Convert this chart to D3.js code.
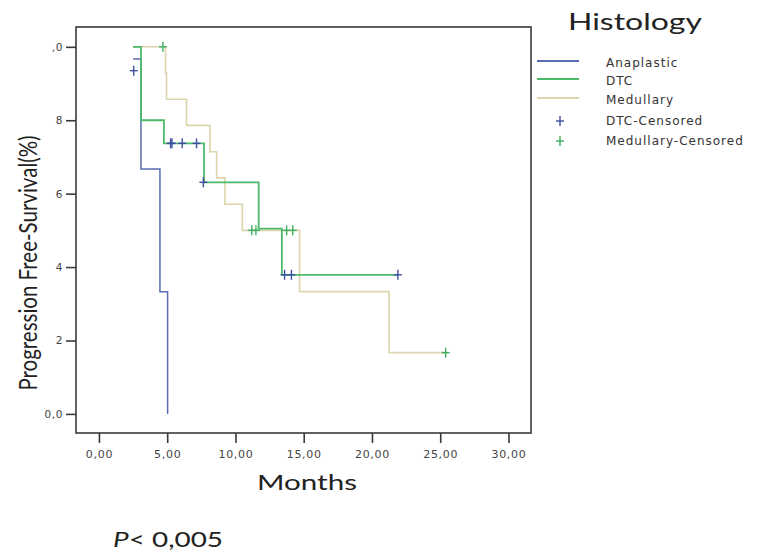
<!DOCTYPE html>
<html>
<head>
<meta charset="utf-8">
<script src="https://cdn.jsdelivr.net/npm/d3@7"></script>
<style>
  body { margin: 0; background: #fff; }
  svg { display: block; }
</style>
</head>
<body>
<svg id="km" width="758" height="558"></svg>
<script>
// valores
const anaTimes = [2.5, 3.08, 4.47, 5.03];
const anaSurv = [0.967, 0.667, 0.333, 0];
const dtcTimes = [2.5, 3.08, 4.76, 7.7, 11.7, 13.4, 21.9];
const dtcSurv = [1.0, 0.8, 0.737, 0.631, 0.505, 0.379, 0.379];
const medTimes = [2.5, 4.88, 4.95, 6.42, 8.13, 8.62, 9.23, 10.5, 14.7, 21.25, 25.5];
const medSurv = [1.0, 0.929, 0.857, 0.786, 0.714, 0.643, 0.571, 0.5, 0.333, 0.167, 0.167];
const dtcCensTimes = [2.55, 5.25, 5.35, 6.1, 7.15, 7.65, 13.6, 14.1, 21.9];
const dtcCensSurv = [0.935, 0.737, 0.737, 0.737, 0.737, 0.631, 0.379, 0.379, 0.379];
const medCensTimes = [4.69, 11.2, 11.5, 13.75, 14.2, 25.4];
const medCensSurv = [1.0, 0.5, 0.5, 0.5, 0.5, 0.167];
const xTicks = [0, 5, 10, 15, 20, 25, 30];
const xTickLabels = ['0,00', '5,00', '10,00', '15,00', '20,00', '25,00', '30,00'];
const yTicks = [0, 0.2, 0.4, 0.6, 0.8, 1.0];
const yTickLabels = ['0,0', '2', '4', '6', '8', ',0'];
const legendNames = ['Anaplastic', 'DTC', 'Medullary', 'DTC-Censored', 'Medullary-Censored'];

const svg = d3.select('#km');
const colAna = '#5b6cb2', colDtc = '#4dba6a', colMed = '#dcd5ab';
const colDtcC = '#3d4f9f', colMedC = '#3fae5e';

const xScale = d3.scaleLinear().domain([-1.68, 31.65]).range([76, 531]);
const yScale = d3.scaleLinear().domain([-0.052, 1.054]).range([433, 27]);

// marco
svg.append('rect')
    .attr('x', 76).attr('y', 27)
    .attr('width', 531 - 76).attr('height', 433 - 27)
    .attr('fill', 'none').attr('stroke', '#3a3a3a').attr('stroke-width', 1.6);

// ejes
const xAxis = d3.axisBottom(xScale).tickValues(xTicks)
    .tickFormat((d, i) => xTickLabels[i]).tickSize(10).tickSizeOuter(0);
const gx = svg.append('g').attr('transform', 'translate(0,433)').call(xAxis);
gx.select('.domain').remove();
gx.selectAll('line').attr('stroke', '#3a3a3a').attr('stroke-width', 1.6);
gx.selectAll('text').attr('font-family', 'DejaVu Sans').attr('font-size', 11)
    .attr('letter-spacing', 0.7).attr('fill', '#444').attr('dy', '1.05em');

const yAxis = d3.axisLeft(yScale).tickValues(yTicks)
    .tickFormat((d, i) => yTickLabels[i]).tickSize(10).tickSizeOuter(0);
const gy = svg.append('g').attr('transform', 'translate(76,0)').call(yAxis);
gy.select('.domain').remove();
gy.selectAll('line').attr('stroke', '#3a3a3a').attr('stroke-width', 1.6);
gy.selectAll('text').attr('font-family', 'DejaVu Sans').attr('font-size', 10.5)
    .attr('letter-spacing', 0.6).attr('fill', '#444').attr('x', -13);

// curvas
const line = d3.line()
    .x(d => xScale(d[0]))
    .y(d => yScale(d[1]))
    .curve(d3.curveStepAfter);

const series = [
    { times: medTimes, surv: medSurv, color: colMed, w: 1.6 },
    { times: anaTimes, surv: anaSurv, color: colAna, w: 1.5 },
    { times: dtcTimes, surv: dtcSurv, color: colDtc, w: 1.8 }
];

svg.selectAll('path.km')
    .data(series)
    .join('path')
    .attr('class', 'km')
    .attr('fill', 'none')
    .attr('stroke', d => d.color)
    .attr('stroke-width', d => d.w)
    .attr('d', d => line(d.times.map((t, i) => [t, d.surv[i]])));

// marcas de censura
function plus(g, color) {
    g.append('line').attr('x1', -4).attr('x2', 4).attr('y1', 0).attr('y2', 0)
        .attr('stroke', color).attr('stroke-width', 1.4);
    g.append('line').attr('x1', 0).attr('x2', 0).attr('y1', -5).attr('y2', 5)
        .attr('stroke', color).attr('stroke-width', 1.4);
}

const cens = dtcCensTimes.map((t, i) => ({ t, s: dtcCensSurv[i], c: colDtcC }))
    .concat(medCensTimes.map((t, i) => ({ t, s: medCensSurv[i], c: colMedC })));

svg.selectAll('g.cens')
    .data(cens)
    .join('g')
    .attr('class', 'cens')
    .attr('transform', d => `translate(${xScale(d.t)},${yScale(d.s)})`)
    .each(function (d) { plus(d3.select(this), d.c); });

// títulos
svg.append('text')
    .attr('x', 257).attr('y', 490)
    .attr('textLength', 100).attr('lengthAdjust', 'spacingAndGlyphs')
    .attr('font-family', 'Lato').attr('font-size', 21).attr('fill', '#222')
    .text('Months');

svg.append('text')
    .attr('transform', 'translate(37,263) rotate(-90) scale(1,1.25)')
    .attr('text-anchor', 'middle')
    .attr('font-family', 'Lato').attr('font-size', 20.5).attr('fill', '#222')
    .text('Progression Free-Survival(%)');

const pt = svg.append('text')
    .attr('x', 113).attr('y', 547)
    .attr('textLength', 110).attr('lengthAdjust', 'spacingAndGlyphs')
    .attr('font-family', 'Lato').attr('font-size', 21).attr('fill', '#222');
pt.append('tspan').attr('font-style', 'italic').text('P');
pt.append('tspan').text('< 0,005');

// leyenda
svg.append('text')
    .attr('x', 568).attr('y', 30)
    .attr('textLength', 134).attr('lengthAdjust', 'spacingAndGlyphs')
    .attr('font-family', 'Lato').attr('font-size', 23).attr('fill', '#222')
    .text('Histology');

const legendY = [61, 79, 98, 121, 141];
const legendCol = [colAna, colDtc, colMed, colDtcC, colMedC];
const lg = svg.selectAll('g.leg')
    .data(legendNames)
    .join('g')
    .attr('class', 'leg')
    .attr('transform', (d, i) => `translate(0,${legendY[i]})`);

lg.each(function (d, i) {
    const g = d3.select(this);
    if (i < 3) {
        g.append('line').attr('x1', 537).attr('x2', 579).attr('y1', 0).attr('y2', 0)
            .attr('stroke', legendCol[i]).attr('stroke-width', 1.8);
    } else {
        const p = g.append('g').attr('transform', 'translate(560,0)');
        plus(p, legendCol[i]);
    }
    g.append('text')
        .attr('x', 606).attr('y', i < 3 ? 6 : 4)
        .attr('font-family', 'DejaVu Sans').attr('font-size', 12)
        .attr('letter-spacing', 1.0).attr('fill', '#333')
        .text(d);
});
</script>
</body>
</html>
